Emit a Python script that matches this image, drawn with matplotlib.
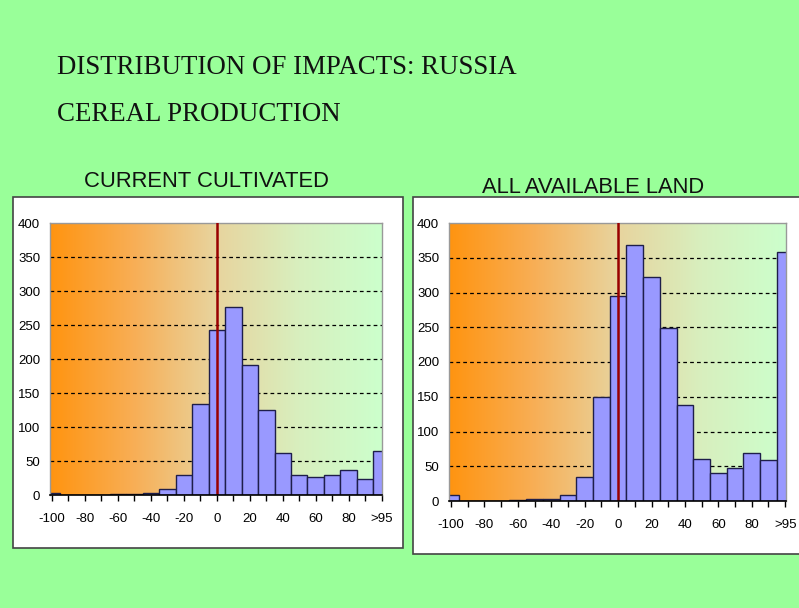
import numpy as np
import matplotlib
matplotlib.use("Agg")
import matplotlib.pyplot as plt
from matplotlib.colors import LinearSegmentedColormap
from matplotlib.patches import Rectangle

# ---- data ----
categories = ["-100", "-90", "-80", "-70", "-60", "-50", "-40", "-30", "-20", "-10",
              "0", "10", "20", "30", "40", "50", "60", "70", "80", "90", ">95"]
current_cultivated = [3, 0, 0, 0, 1, 2, 3, 9, 29, 134, 242, 276, 191, 125, 62, 30, 26, 29, 37, 24, 64]
all_available_land = [8, 0, 0, 0, 1, 3, 3, 9, 35, 150, 295, 368, 323, 249, 138, 61, 41, 47, 69, 59, 358]
yticks = [0, 50, 100, 150, 200, 250, 300, 350, 400]
main_title = "DISTRIBUTION OF IMPACTS: RUSSIA"
sub_title = "CEREAL PRODUCTION"
panel_titles = ["CURRENT CULTIVATED", "ALL AVAILABLE LAND"]

W, H = 799, 608
fig = plt.figure(figsize=(W / 100, H / 100), dpi=100)
fig.patch.set_facecolor("#99FF99")

def fx(px):
    return px / W

def fy(py):
    return 1 - py / H

# white panel boxes
for (x0, y0, x1, y1) in [(13, 197, 403, 548), (413, 197, 830, 554)]:
    fig.patches.append(Rectangle((fx(x0), fy(y1)), fx(x1) - fx(x0), fy(y0) - fy(y1),
                                 transform=fig.transFigure, facecolor="white",
                                 edgecolor="#444444", linewidth=1.2, zorder=0))

grad = LinearSegmentedColormap.from_list(
    "bg", [(0.0, "#FF9410"), (0.25, "#F8AE55"), (0.5, "#E8D49E"), (0.75, "#D8EFBE"), (1.0, "#CCFFCC")])

tickfont = ["Liberation Sans", "DejaVu Sans"]

def draw_panel(rect, values, xlim):
    ax = fig.add_axes(rect)
    ax.set_zorder(2)
    x = np.arange(len(categories))
    ax.set_xlim(*xlim)
    ax.set_ylim(0, 400)
    ax.imshow(np.linspace(0, 1, 256)[None, :], cmap=grad, aspect="auto",
              extent=[xlim[0], xlim[1], 0, 400], zorder=0)
    for yv in yticks[1:-1]:
        ax.axhline(yv, color="black", lw=0.9, ls=(0, (3, 2.5)), zorder=1)
    ax.bar(x, values, width=1.0, color="#9999FF", edgecolor="#1E1E4A", linewidth=1.0, zorder=2)
    zero_idx = categories.index("0")
    ax.axvline(zero_idx, color="#990000", lw=1.8, zorder=3)
    ax.set_xticks(x)
    ax.set_xticklabels([c if i % 2 == 0 else "" for i, c in enumerate(categories)],
                       family=tickfont, fontsize=9.5)
    ax.set_yticks(yticks)
    ax.set_yticklabels([str(v) for v in yticks], family=tickfont, fontsize=9.5)
    ax.tick_params(axis="x", length=4, width=1, direction="out", pad=9, colors="black")
    ax.tick_params(axis="y", length=0, pad=7)
    for s in ["top", "right", "left"]:
        ax.spines[s].set_color("#999999")
        ax.spines[s].set_linewidth(1.0)
    ax.spines["bottom"].set_color("black")
    ax.spines["bottom"].set_linewidth(1.2)
    ax.spines["bottom"].set_zorder(4)
    return ax

draw_panel([fx(50), fy(495), fx(382) - fx(50), fy(223) - fy(495)], current_cultivated, (-0.12, 20.02))
draw_panel([fx(449), fy(501), fx(786) - fx(449), fy(223) - fy(501)], all_available_land, (-0.12, 20.05))

fig.text(fx(57), fy(74), main_title, family=["Liberation Serif", "DejaVu Serif"],
         fontsize=19.4, color="#111111", va="baseline", ha="left")
fig.text(fx(57), fy(121), sub_title, family=["Liberation Serif", "DejaVu Serif"],
         fontsize=19.4, color="#111111", va="baseline", ha="left")
fig.text(fx(206), fy(187), panel_titles[0], family=["Liberation Sans", "DejaVu Sans"],
         fontsize=15.8, color="#111111", va="baseline", ha="center")
fig.text(fx(593), fy(193), panel_titles[1], family=["Liberation Sans", "DejaVu Sans"],
         fontsize=15.8, color="#111111", va="baseline", ha="center")

fig.savefig("out.png", dpi=100, facecolor=fig.get_facecolor())
